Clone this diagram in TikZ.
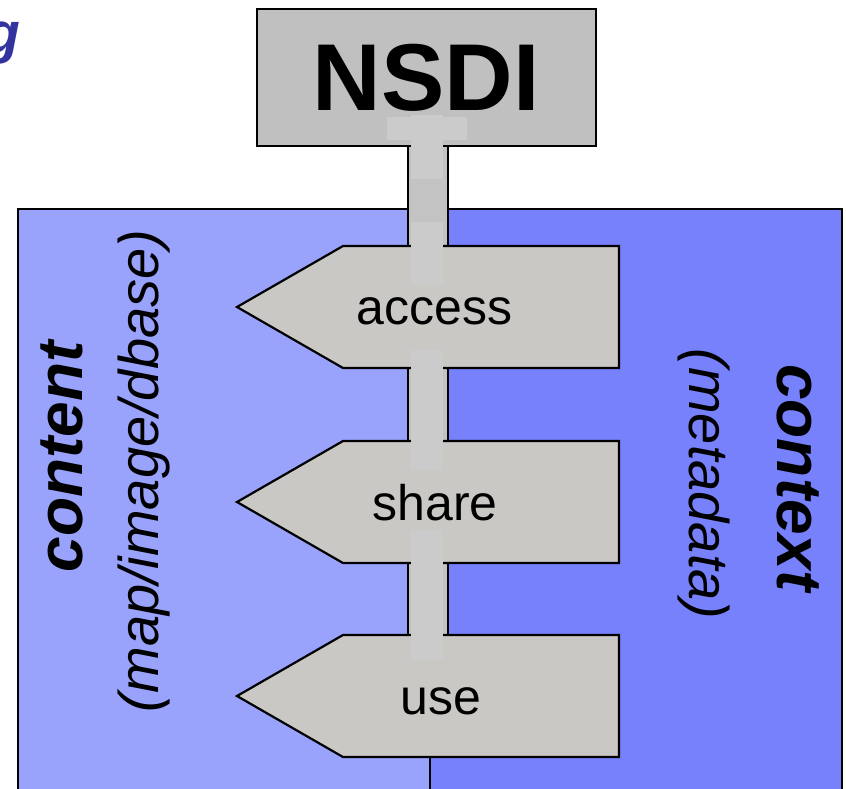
\documentclass[tikz,border=0pt]{standalone}
\usepackage{fontspec}
\setmainfont{Liberation Sans}
\definecolor{contentblue}{HTML}{99A3FC}
\definecolor{contextblue}{HTML}{7781FB}
\definecolor{signgrey}{HTML}{C9C8C4}
\definecolor{postgrey}{HTML}{C3C3C3}
\definecolor{postlight}{HTML}{CBCBCB}
\definecolor{boxgrey}{HTML}{C0C0C0}
\definecolor{titleblue}{HTML}{33339F}
\begin{document}
\begin{tikzpicture}[x=1pt, y=-1pt,
  outline/.style={draw=black, line width=2.2pt},
  signlabel/.style={anchor=base, inner sep=0pt, font=\fontsize{50}{50}\selectfont},
  sidebold/.style={anchor=base, inner sep=0pt, font=\fontsize{64}{64}\selectfont\bfseries\itshape},
  sideitalic/.style={anchor=base, inner sep=0pt, font=\fontsize{56}{56}\selectfont\itshape}]
\useasboundingbox (0,0) rectangle (846,788);

% the two halves: content (left) and context (right)
\fill[contentblue] (18,209) rectangle (430,820);
\fill[contextblue] (430,209) rectangle (842,820);
\draw[outline] (18,820) -- (18,209) -- (842,209) -- (842,820);
\draw[outline] (430,209) -- (430,820);

% signpost pole
\draw[outline, fill=postgrey] (408,140) rectangle (448,740);

% direction signs
\foreach \name/\top in {accesssign/246, sharesign/441, usesign/635}{
  \draw[outline, fill=signgrey, line join=miter]
    (619,\top) -- (343,\top) -- (237,\top+61) -- (343,\top+122) -- (619,\top+122) -- cycle;
}

% top box
\node[outline, fill=boxgrey, minimum width=339pt, minimum height=137pt,
      inner sep=0pt, anchor=north west] (nsdi) at (256,8) {};
\node[anchor=base, inner sep=0pt, font=\fontsize{95}{95}\selectfont\bfseries]
  (nsditext) at (426,110) {NSDI};

% light patches along the pole
\fill[postlight] (387,117) rectangle (467,140);
\fill[postlight] (411,115) rectangle (443,179);
\fill[postlight] (411,222) rectangle (443,285);
\fill[postlight] (411,350) rectangle (443,470);
\fill[postlight] (411,530) rectangle (443,660);

% sign labels
\node[signlabel] (access) at (434.5,324) {access};
\node[signlabel] (share) at (435,520) {share};
\node[signlabel] (use) at (441,714) {use};

% side labels
\node[sidebold, rotate=90] (content) at (82,457) {content};
\node[sideitalic, rotate=90] (contentsub) at (158,471) {(map/image/dbase)};
\node[sidebold, rotate=-90] (context) at (777,478) {context};
\node[sideitalic, rotate=-90] (contextsub) at (689,484) {(metadata)};

% heading fragment at the top left
\node[anchor=base east, inner sep=0pt, text=titleblue,
      font=\fontsize{57}{57}\selectfont\bfseries\itshape] (heading) at (21,52) {g};
\end{tikzpicture}
\end{document}
